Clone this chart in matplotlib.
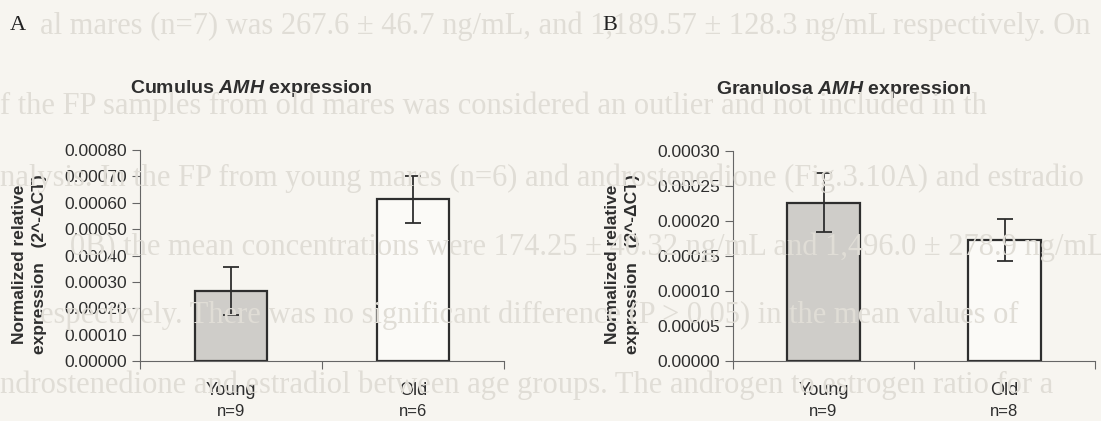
import matplotlib
matplotlib.use("Agg")
import matplotlib.pyplot as plt
from matplotlib.ticker import FormatStrFormatter, FixedLocator

# data
groups = ["Young", "Old"]
cumulus_n = ["n=9", "n=6"]
cumulus_mean = [0.000265, 0.000614]
cumulus_err = [0.000091, 0.000089]
granulosa_n = ["n=9", "n=8"]
granulosa_mean = [0.000226, 0.000172]
granulosa_err = [0.000042, 0.000030]

# faint text bleeding through from the scanned page
page_lines = [
    "al mares (n=7) was 267.6 \u00b1 46.7 ng/mL, and 1,189.57 \u00b1 128.3 ng/mL respectively. On",
    "f the FP samples from old mares was considered an outlier and not included in th",
    "nalysis. In the FP from young mares (n=6) and androstenedione (Fig.3.10A) and estradio",
    "0B) the mean concentrations were 174.25 \u00b1 40.32 ng/mL and 1,496.0 \u00b1 278.9 ng/mL",
    "espectively. There was no significant difference (P > 0.05) in the mean values of",
    "ndrostenedione and estradiol between age groups. The androgen to estrogen ratio for a",
]
page_x = [40, 0, 0, 70, 40, 0]
page_y = [26, 106, 178, 247, 315, 385]

bg = "#f7f5f0"
ink = "#2e2e2e"
plt.rcParams["font.family"] = ["Liberation Sans", "DejaVu Sans"]
plt.rcParams["mathtext.fontset"] = "custom"
plt.rcParams["mathtext.it"] = "Liberation Sans:italic:bold"
plt.rcParams["mathtext.rm"] = "Liberation Sans:bold"

W, H = 1101, 421
fig = plt.figure(figsize=(W / 100, H / 100), dpi=100, facecolor=bg)

for txt, px, py in zip(page_lines, page_x, page_y):
    fig.text(px / W, 1 - py / H, txt, fontsize=22, color="#e0ddd6",
             family=["Liberation Serif", "DejaVu Serif"], va="center", ha="left", zorder=0)


def panel(rect, means, errs, ns, ymax, step, title, letter, letter_x):
    ax = fig.add_axes(rect)
    ax.set_facecolor("none")
    x = range(len(groups))
    ax.bar(x, means, width=0.4, color=["#cfcdc9", "#fbfaf7"], edgecolor=ink,
           linewidth=1.6, zorder=2)
    ax.errorbar(x, means, yerr=errs, fmt="none", ecolor=ink, elinewidth=1.3,
                capsize=5.5, capthick=1.3, zorder=3)
    ax.set_xlim(-0.5, 1.5)
    ax.set_ylim(0, ymax)
    ax.set_yticks([i * step for i in range(int(round(ymax / step)) + 1)])
    ax.yaxis.set_major_formatter(FormatStrFormatter("%.5f"))
    ax.set_xticks(list(x))
    ax.set_xticklabels(groups)
    ax.xaxis.set_minor_locator(FixedLocator([-0.5, 0.5, 1.5]))
    ax.tick_params(axis="x", which="major", length=0, pad=15, labelsize=13, colors=ink)
    ax.tick_params(axis="x", which="minor", length=6, width=0.8, color="#666666")
    ax.tick_params(axis="y", length=6, width=0.8, color="#666666", pad=3.5,
                   labelsize=12.5, labelcolor=ink)
    for i, n in enumerate(ns):
        ax.text(i, -0.24, n, transform=ax.get_xaxis_transform(), ha="center",
                va="center", fontsize=12, color=ink)
    for s in ["top", "right"]:
        ax.spines[s].set_visible(False)
    for s in ["left", "bottom"]:
        ax.spines[s].set_color("#666666")
        ax.spines[s].set_linewidth(0.8)
    ax.set_ylabel("Normalized relative\nexpression   (2^-\u0394CT)", fontsize=12.5,
                  fontweight="bold", color=ink, linespacing=1.4)
    ax.yaxis.set_label_coords(-93 / (rect[2] * W), 0.46)
    ax.text(0.306, 1.29, title, transform=ax.transAxes, ha="center", va="center",
            fontsize=14, fontweight="bold", color=ink)
    fig.text(letter_x / W, 1 - 26 / H, letter, fontsize=16, color="#222222",
             family=["Liberation Serif", "DejaVu Serif"], va="center", ha="left")
    return ax


panel([140 / W, 60 / H, 364 / W, 211 / H], cumulus_mean, cumulus_err, cumulus_n,
      0.0008, 0.0001, r"Cumulus $\mathit{AMH}$ expression", "A", 10)
panel([733 / W, 60.3 / H, 362 / W, 210 / H], granulosa_mean, granulosa_err, granulosa_n,
      0.0003, 0.00005, r"Granulosa $\mathit{AMH}$ expression", "B", 602)

fig.savefig("out.png", dpi=100, facecolor=bg)
